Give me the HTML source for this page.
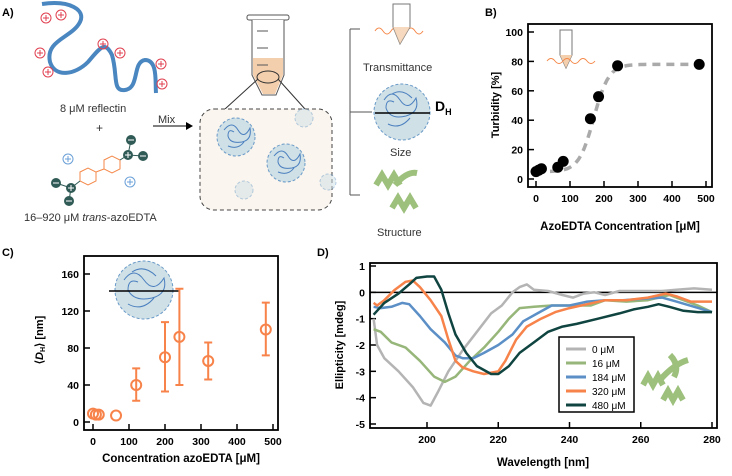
<!DOCTYPE html>
<html><head><meta charset="utf-8"><style>
body{margin:0;background:#fff;width:732px;height:476px;overflow:hidden}
svg{display:block;font-family:"Liberation Sans",Arial,sans-serif}
</style></head><body>
<svg id="fig" width="732" height="476" viewBox="0 0 732 476">
<!-- Panel A -->
<g>
<text x="2" y="16" font-size="11" font-weight="bold">A)</text>
<path d="M42 4 C70 0 86 10 80 22 C72 38 45 40 50 62 C55 78 75 75 88 62 C100 48 105 40 112 55 C118 75 112 92 125 90 C140 88 132 62 145 60 C158 60 155 82 156 93" fill="none" stroke="#4a86c0" stroke-width="4"/>
<g fill="none" stroke="#e04050" stroke-width="1">
<circle cx="46" cy="18" r="5"/><circle cx="61" cy="15" r="5"/><circle cx="40" cy="53" r="5"/><circle cx="48" cy="72" r="5"/><circle cx="103" cy="44" r="5"/><circle cx="120" cy="53" r="5"/><circle cx="161" cy="64" r="5"/><circle cx="162" cy="84" r="5"/>
<path d="M43 18h6M46 15v6M58 15h6M61 12v6M37 53h6M40 50v6M45 72h6M48 69v6M100 44h6M103 41v6M117 53h6M120 50v6M158 64h6M161 61v6M159 84h6M162 81v6"/>
</g>
<text x="60" y="112" font-size="11" fill="#333">8 μM reflectin</text>
<text x="96" y="132" font-size="12" fill="#333">+</text>
<g>
<polygon points="80,172 88,168 96,172 96,181 88,185 80,181" fill="none" stroke="#f5894a"/>
<polygon points="104,160 112,156 120,160 120,169 112,173 104,169" fill="none" stroke="#f5894a"/>
<line x1="96" y1="172" x2="104" y2="169" stroke="#f5894a"/>
<line x1="56" y1="183" x2="71" y2="188" stroke="#2f5a55"/><line x1="71" y1="188" x2="69" y2="201" stroke="#2f5a55"/><line x1="71" y1="188" x2="80" y2="181" stroke="#2f5a55"/>
<line x1="128" y1="155" x2="131" y2="140" stroke="#2f5a55"/><line x1="128" y1="155" x2="143" y2="156" stroke="#2f5a55"/><line x1="128" y1="155" x2="120" y2="160" stroke="#2f5a55"/>
<circle cx="71" cy="188" r="5" fill="#2f5a55"/><circle cx="56" cy="183" r="5" fill="#2f5a55"/><circle cx="69" cy="201" r="5" fill="#2f5a55"/>
<circle cx="128" cy="155" r="5" fill="#2f5a55"/><circle cx="131" cy="140" r="5" fill="#2f5a55"/><circle cx="143" cy="156" r="5" fill="#2f5a55"/>
<path d="M68 188h6M71 185v6M125 155h6M128 152v6M53 183h6M66 201h6M128 140h6M140 156h6" stroke="#fff"/>
<circle cx="68" cy="159" r="5" fill="none" stroke="#6aa0d8"/><circle cx="130" cy="182" r="5" fill="none" stroke="#6aa0d8"/>
<path d="M65 159h6M68 156v6M127 182h6M130 179v6" stroke="#6aa0d8"/>
</g>
<text x="24" y="221" font-size="11" fill="#333">16–920 μM <tspan font-style="italic">trans</tspan>-azoEDTA</text>
<text x="158" y="123" font-size="11" fill="#333">Mix</text>
<line x1="153" y1="126" x2="186" y2="126" stroke="#000"/>
<polygon points="186,122 193,126 186,130" fill="#000"/>
<g>
<rect x="247" y="15" width="42" height="5" rx="2" fill="#fff" stroke="#555"/>
<path d="M252 20 L252 75 L262 95 L276 95 L284 75 L284 20" fill="#fff" stroke="#555"/>
<path d="M253 58 L283 58 L283 75 L275 94 L263 94 L253 75Z" fill="#f4cfae"/>
<line x1="257" y1="31" x2="268" y2="31" stroke="#555"/><line x1="257" y1="48" x2="268" y2="48" stroke="#555"/><line x1="257" y1="65" x2="268" y2="65" stroke="#555"/>
<ellipse cx="268" cy="77" rx="11" ry="6" fill="none" stroke="#333"/>
<line x1="258" y1="79" x2="225" y2="109" stroke="#333"/><line x1="278" y1="79" x2="305" y2="109" stroke="#333"/>
</g>
<rect x="200" y="109" width="132" height="101" rx="14" fill="#faf5ee" stroke="#444" stroke-dasharray="4,3"/>
<g fill="#cfe0e6" stroke="#6a9ac8" stroke-dasharray="3,2">
<circle cx="236" cy="137" r="19"/><circle cx="286" cy="163" r="19"/><circle cx="304" cy="118" r="9" opacity="0.5"/><circle cx="244" cy="190" r="9" opacity="0.5"/><circle cx="328" cy="182" r="8" opacity="0.5"/>
</g>
<g fill="none" stroke="#4a7fbf" stroke-width="1">
<path d="M224 130 q8 -10 14 0 q6 10 12 -2 q2 12 -8 14 q-12 2 -14 -6 q0 -8 6 -4 M228 146 q10 4 16 -4"/>
<path d="M274 156 q8 -10 14 0 q6 10 12 -2 q2 12 -8 14 q-12 2 -14 -6 q0 -8 6 -4 M278 172 q10 4 16 -4"/>
</g>
<line x1="350" y1="29" x2="350" y2="195" stroke="#555"/>
<line x1="350" y1="29" x2="360" y2="29" stroke="#555"/><line x1="350" y1="112" x2="372" y2="112" stroke="#555"/><line x1="350" y1="195" x2="360" y2="195" stroke="#555"/>
<path d="M375 31 q4 -6 8 0 q4 6 8 0 q4 -6 8 0 q4 6 8 0 q4 -6 8 0 q4 6 8 0" fill="none" stroke="#f5894a" stroke-width="1"/>
<path d="M393 4 L393 27 L400 44 L410 27 L410 4Z" fill="#fff" stroke="#777"/>
<path d="M393 27 L400 44 L410 27Z" fill="#f4cfae" opacity="0.8"/>
<text x="363" y="71" font-size="11" fill="#333">Transmittance</text>
<circle cx="402" cy="112" r="28" fill="#cfe0e6" stroke="#6a9ac8" stroke-dasharray="3,2"/>
<path d="M384 100 q8 -12 16 0 q8 12 16 -2 q4 14 -10 18 q-16 4 -20 -8 q0 -10 8 -6 M388 124 q12 6 22 -6 M392 94 q10 -6 20 4" fill="none" stroke="#4a7fbf"/>
<line x1="375" y1="113" x2="430" y2="113" stroke="#000" stroke-width="1.5"/>
<text x="435" y="111" font-size="14" font-weight="bold">D<tspan font-size="9" dy="4">H</tspan></text>
<text x="390" y="156" font-size="11" fill="#333">Size</text>
<path d="M376 185 l6 -10 l6 10 l6 -10 l6 10 M392 208 l6 -10 l6 10 l6 -10 l6 10 M395 185 q12 -14 22 -12" fill="none" stroke="#9dc07c" stroke-width="6"/>
<text x="377" y="236" font-size="11" fill="#333">Structure</text>
</g>
<text x="485" y="16" font-size="11" font-weight="bold">B)</text>
<text x="2" y="256" font-size="11" font-weight="bold">C)</text>
<text x="317" y="256" font-size="11" font-weight="bold">D)</text>
<g id="pb"></g>
<g id="pc"></g>
<g id="pd"></g>
</svg>
<script>
// Panel B data
const bConc=[0,8,16,64,80,160,184,240,480];
const bTurb=[5,6,7,8,12,41,56,77,78];
const bTicksX=[0,100,200,300,400,500];
const bTicksY=[0,20,40,60,80,100];
// Panel C data
const cConc=[0,8,16,64,120,200,240,320,480];
const cSize=[9,8,8,7,40,70,92,66,100];
const cLow=[null,null,null,null,23,33,40,46,72];
const cHigh=[null,null,null,null,58,108,144,86,129];
const cTicksX=[0,100,200,300,400,500];
const cTicksY=[0,40,80,120,160];
// Panel D data
const dLabels=["0 μM","16 μM","184 μM","320 μM","480 μM"];
const dColors=["#b4b4b4","#97b67a","#5b8fc6","#f7834a","#0f4440"];
const dX0=[185,186,188,192,196,199,201,203,206,210,214,218,221,224,226,228,230,234,238,241,244,247,250,254,260,266,270,275,280];
const dY0=[-1,-2,-2.5,-3,-3.6,-4.2,-4.3,-3.8,-3,-2.2,-1.5,-0.8,-0.5,0,0.2,0.3,0.1,0.05,-0.1,-0.2,-0.05,0,-0.1,0.05,0.05,0.05,0.1,0.15,0.1];
const dX1=[185,187,190,194,198,202,205,208,212,216,220,223,226,230,235,240,246,250,256,262,268,272,276,280];
const dY1=[-1.4,-1.5,-1.9,-2.1,-2.6,-3.2,-3.4,-3.2,-2.6,-2.1,-1.5,-1,-0.6,-0.55,-0.5,-0.5,-0.5,-0.3,-0.35,-0.3,-0.1,-0.3,-0.5,-0.75];
const dX2=[185,187,190,193,195,198,201,205,208,210,213,216,220,224,227,231,235,240,245,250,255,260,266,270,275,280];
const dY2=[-0.55,-0.6,-0.55,-0.4,-0.45,-0.9,-1.4,-1.9,-2.4,-2.5,-2.5,-2.3,-2,-1.6,-1.1,-0.8,-0.5,-0.5,-0.35,-0.3,-0.3,-0.25,-0.2,-0.35,-0.55,-0.75];
const dX3=[185,186,188,191,194,196,198,201,204,206,208,210,213,216,220,222,225,228,232,236,240,245,250,256,262,267,270,274,280];
const dY3=[-0.4,-0.5,-0.3,0.1,0.4,0.45,0.2,-0.3,-0.9,-1.8,-2.6,-2.85,-3,-3.1,-3,-2.6,-1.8,-1.3,-1,-0.75,-0.6,-0.45,-0.3,-0.3,-0.2,-0.05,-0.15,-0.35,-0.35];
const dX4=[185,188,192,195,197,200,202,204,206,208,211,214,218,220,223,226,230,234,238,242,248,254,258,262,265,268,272,276,280];
const dY4=[-0.85,-0.4,-0.05,0.3,0.55,0.6,0.6,0.1,-0.8,-1.6,-2.3,-2.8,-3.1,-3.1,-2.8,-2.3,-1.9,-1.5,-1.3,-1.2,-1,-0.8,-0.65,-0.55,-0.45,-0.55,-0.7,-0.75,-0.75];
const dXs=[dX0,dX1,dX2,dX3,dX4], dYs=[dY0,dY1,dY2,dY3,dY4];
const dTicksX=[200,220,240,260,280];
const dTicksY=[-5,-4,-3,-2,-1,0,1];

const NS="http://www.w3.org/2000/svg";
function mk(parent,tag,attrs,text){const e=document.createElementNS(NS,tag);for(const k in attrs)e.setAttribute(k,attrs[k]);if(text!==undefined)e.textContent=text;parent.appendChild(e);return e;}
function lin(d0,d1,r0,r1){return v=>r0+(v-d0)*(r1-r0)/(d1-d0);}

function axes(g,box,sx,sy,tx,ty,xt,yt,xl,yl){
  const f=mk(g,'rect',{x:box[0],y:box[1],width:box[2]-box[0],height:box[3]-box[1],fill:'none',stroke:'#000','stroke-width':1.8});
  
  tx.forEach(v=>{const x=sx(v);mk(g,'line',{x1:x,x2:x,y1:box[3],y2:box[3]-6,stroke:'#000','stroke-width':1.5});
    const t=mk(g,'text',{x:x,y:box[3]+15,'font-size':10.5,'font-weight':'bold','text-anchor':'middle'},v);
    });
  ty.forEach(v=>{const y=sy(v);mk(g,'line',{x1:box[0],x2:box[0]+6,y1:y,y2:y,stroke:'#000','stroke-width':1.5});
    const t=mk(g,'text',{x:box[0]-5,y:y+4,'font-size':10.5,'font-weight':'bold','text-anchor':'end'},v);
    });
  const a=mk(g,'text',{x:xt[0],y:xt[1],'font-size':11.5,'font-weight':'bold','text-anchor':'middle'},xl);
  
  const b=mk(g,'text',{x:0,y:0,'font-size':11,'font-weight':'bold','text-anchor':'middle',transform:`translate(${yt[0]},${yt[1]}) rotate(-90)`},yl);
  
  return b;
}
// B
(function(){
  const g=document.getElementById('pb');const box=[528,24,712,187];
  const sx=lin(0,500,536,706), sy=lin(0,100,179,32);
  axes(g,box,sx,sy,bTicksX,bTicksY,[620,230],[499,105],'AzoEDTA Concentration [μM]','Turbidity [%]');
  let d='';for(let i=0;i<=60;i++){const c=i*500/60;const v=5+73/(1+Math.exp(-(c-170)/22));d+=(i?'L':'M')+sx(c)+' '+sy(v);}
  const fit=mk(g,'path',{d:d,fill:'none',stroke:'#aaa','stroke-width':3.5,'stroke-dasharray':'8,6'});
  
  mk(g,'path',{d:'M560 30 L560 55 L566 68 L572 55 L572 30Z',fill:'#fff',stroke:'#777'});
  mk(g,'path',{d:'M560 55 L566 68 L572 55Z',fill:'#f4cfae'});
  mk(g,'path',{d:'M547 61 q4 -5 8 0 q4 5 8 0 q4 -5 8 0 q4 5 8 0 q4 -5 8 0 q4 5 8 0',fill:'none',stroke:'#f5894a'});
  bConc.forEach((c,i)=>{const p=mk(g,'circle',{cx:sx(c),cy:sy(bTurb[i]),r:5.5,fill:'#000'});
    });
})();
// C
(function(){
  const g=document.getElementById('pc');const box=[84,256,278,430];
  const sx=lin(0,500,93,273), sy=lin(0,160,422,274);
  const yt=axes(g,box,sx,sy,cTicksX,cTicksY,[181,462],[43,340],'Concentration azoEDTA [μM]','');
  yt.innerHTML='⟨<tspan font-style="italic">D</tspan><tspan font-size="7" dy="2">H</tspan><tspan dy="-2">⟩ [nm]</tspan>';
  const part=mk(g,'circle',{cx:144,cy:290,r:29,fill:'#cfe0e6',stroke:'#6a9ac8','stroke-dasharray':'3,2'});
  
  mk(g,'path',{d:'M124 280 q10 -14 20 0 q10 14 20 -2 q4 16 -12 20 q-18 4 -24 -8 q0 -12 10 -8 M128 304 q14 8 26 -6 M132 272 q12 -8 24 4',fill:'none',stroke:'#4a7fbf'});
  mk(g,'line',{x1:109,x2:180,y1:291,y2:291,stroke:'#000','stroke-width':1.5});
  cConc.forEach((c,i)=>{const x=sx(c);
    if(cLow[i]!==null){const e=mk(g,'path',{d:`M${x} ${sy(cLow[i])}V${sy(cHigh[i])}M${x-4} ${sy(cLow[i])}h8M${x-4} ${sy(cHigh[i])}h8`,stroke:'#f7834a','stroke-width':2,fill:'none'});
      }
    const p=mk(g,'circle',{cx:x,cy:sy(cSize[i]),r:5,fill:'none',stroke:'#f7834a','stroke-width':2});
    });
})();
// D
(function(){
  const g=document.getElementById('pd');const box=[370,263,717,428];
  const sx=lin(200,280,427,712), sy=lin(1,-5,266,424);
  axes(g,box,sx,sy,dTicksX,dTicksY,[543,466],[343,345],'Wavelength [nm]','Ellipticity [mdeg]');
  mk(g,'line',{x1:370,x2:717,y1:sy(0),y2:sy(0),stroke:'#000','stroke-width':1.5});
  dXs.forEach((xs,k)=>{const d=xs.map((x,i)=>(i?'L':'M')+sx(x).toFixed(1)+' '+sy(dYs[k][i]).toFixed(1)).join('');
    const p=mk(g,'path',{d:d,fill:'none',stroke:dColors[k],'stroke-width':2.5,'stroke-linejoin':'round'});
    });
  const lg=mk(g,'rect',{x:559,y:337,width:75,height:75,fill:'#fff',stroke:'#000','stroke-width':1.5});
  
  dLabels.forEach((l,k)=>{const y=349+k*14;
    mk(g,'line',{x1:566,x2:586,y1:y,y2:y,stroke:dColors[k],'stroke-width':3});
    const t=mk(g,'text',{x:592,y:y+4,'font-size':10},l);
    });
  const pr=mk(g,'path',{d:'M643 385 l5 -9 l5 9 l5 -9 l5 9 M663 400 l5 -9 l5 9 l5 -9 l5 9 M660 380 q14 -16 28 -20 M670 355 q10 10 4 22',fill:'none',stroke:'#9dc07c','stroke-width':6});
  
})();
</script>
</body></html>
